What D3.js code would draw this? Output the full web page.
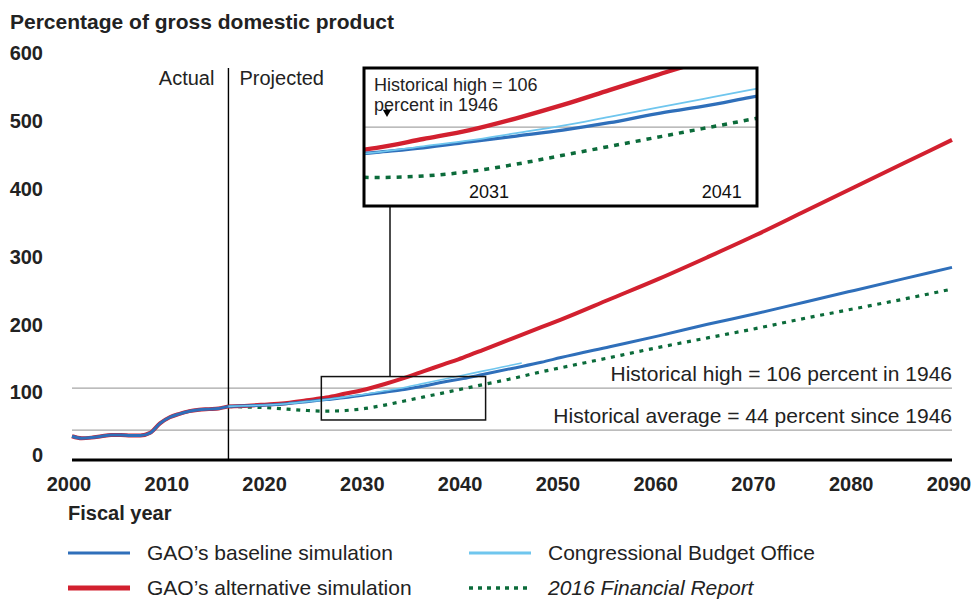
<!DOCTYPE html>
<html><head><meta charset="utf-8">
<script src="https://cdn.jsdelivr.net/npm/d3@7"></script>
<style>
html,body{margin:0;padding:0;background:#fff;}
svg{display:block;font-family:"Liberation Sans",Arial,Helvetica,sans-serif;}
</style></head>
<body><svg id="chart" width="975" height="599"></svg>
<script>
// ---------- data (percent of GDP) ----------
const actualYears = [2000,2001,2002,2003,2004,2005,2006,2007,2008,2009,2010,2011,2012,2013,2014,2015,2016];
const actualDebt  = [35,32,33,35,37,37,36,36,40,54,63,68,72,74,75,76,79];

const projYears   = [2016,2018,2020,2022,2024,2026,2028,2030,2032,2034,2036,2038,2040,2042,2045,2048,2050,2055,2060,2065,2070,2075,2080,2085,2090];
const baseline    = [79,80,81,83,86,89,92,96,100,104,109,115,120,126,135,144,151,167,183,200,216,233,250,267,284];
const alternative = [79,80,82,84,88,92,98,104,112,121,131,141,151,162,179,196,207,237,267,299,332,367,402,437,472];
const finReport   = [79,78,77,75,73,72,73,76,81,87,93,99,105,111,120,130,136,151,166,180,194,209,223,237,252];

const cboYears    = [2016,2018,2020,2022,2024,2026,2028,2030,2032,2034,2036,2038,2040,2042,2044,2046];
const cbo         = [79,80,81,83,86,89,93,97,102,107,113,119,125,131,137,143];

const yTicks = [0,100,200,300,400,500,600];
const xTicks = [2000,2010,2020,2030,2040,2050,2060,2070,2080,2090];
const refLines = [{v:106, label:"Historical high = 106 percent in 1946"},
                  {v:44,  label:"Historical average = 44 percent since 1946"}];
const splitYear = 2016;
const zoomYears = [2025.5, 2042.3];
const zoomValues = [59, 123];
const insetDomainY = [52.7, 146];
const insetTickYears = [2031, 2041];

const legendItems = [
  {label:"GAO\u2019s baseline simulation", key:"base"},
  {label:"GAO\u2019s alternative simulation", key:"alt"},
  {label:"Congressional Budget Office", key:"cbo"},
  {label:"2016 Financial Report", key:"fin", italic:true}
];

// ---------- styles ----------
const C = {base:"#2f6fba", alt:"#d2202f", cbo:"#6fc6ee", fin:"#0b6b3a", grid:"#a6a6a6", text:"#222"};
const W = {base:3, alt:4, cbo:1.6, fin:3.2};

const svg = d3.select("#chart");
const x = d3.scaleLinear().domain([2000,2090]).range([72,952]);
const y = d3.scaleLinear().domain([0,600]).range([460,53]);

const zip = (xs, vs) => xs.map((d,i)=>[d, vs[i]]);
const histPts = zip(actualYears, actualDebt);

function drawSeries(g, xs, ys, pts, key, dash, width){
  const line = d3.line().x(d=>xs(d[0])).y(d=>ys(d[1])).curve(d3.curveMonotoneX);
  g.append("path").datum(pts).attr("d", line)
    .attr("fill","none").attr("stroke", C[key]).attr("stroke-width", width)
    .attr("stroke-dasharray", dash || null).attr("stroke-linejoin","round");
}

// title
svg.append("text").attr("x",10).attr("y",29).text("Percentage of gross domestic product")
  .attr("font-size",21).attr("font-weight","bold").attr("fill",C.text);

// y tick labels
svg.append("g").selectAll("text").data(yTicks).join("text")
  .attr("x",43).attr("y",d=>Math.min(y(d),455)).attr("dy","0.36em")
  .attr("text-anchor","end").attr("font-size",20).attr("font-weight","bold").attr("fill",C.text)
  .text(d=>d);

// reference grid lines
svg.append("g").selectAll("line").data(refLines).join("line")
  .attr("x1",x(2000)).attr("x2",x(2090)).attr("y1",d=>y(d.v)).attr("y2",d=>y(d.v))
  .attr("stroke",C.grid).attr("stroke-width",1.3);
svg.append("g").selectAll("text").data(refLines).join("text")
  .attr("x",x(2090)).attr("y",d=>y(d.v)-7).attr("text-anchor","end")
  .attr("font-size",21).attr("fill",C.text).text(d=>d.label);

// Actual / Projected divider
svg.append("line").attr("x1",x(splitYear)).attr("x2",x(splitYear)).attr("y1",68).attr("y2",460)
  .attr("stroke","#000").attr("stroke-width",1.4);
svg.append("text").attr("x",x(splitYear)-14).attr("y",85).attr("text-anchor","end")
  .attr("font-size",20).attr("fill",C.text).text("Actual");
svg.append("text").attr("x",x(splitYear)+11).attr("y",85)
  .attr("font-size",20).attr("fill",C.text).text("Projected");

// series (main)
const gm = svg.append("g");
function drawAll(g, xs, ys, scale){
  const s = scale || 1;
  drawSeries(g, xs, ys, histPts, "alt", null, W.alt*s);
  drawSeries(g, xs, ys, zip(projYears, finReport), "fin", s>1 ? "5,6" : "4,5.7", W.fin*s);
  drawSeries(g, xs, ys, zip(projYears, alternative), "alt", null, W.alt*s);
  drawSeries(g, xs, ys, histPts, "base", null, W.base*s);
  drawSeries(g, xs, ys, zip(projYears, baseline), "base", null, W.base*s);
  drawSeries(g, xs, ys, zip(cboYears, cbo), "cbo", null, W.cbo*s);
}
drawAll(gm, x, y, 1);

// x axis line
svg.append("line").attr("x1",x(2000)).attr("x2",x(2090)).attr("y1",y(0)).attr("y2",y(0))
  .attr("stroke","#000").attr("stroke-width",3.2);
svg.append("g").selectAll("text").data(xTicks).join("text")
  .attr("x",d=>x(d)-3).attr("y",491).attr("text-anchor","middle")
  .attr("font-size",20).attr("font-weight","bold").attr("fill",C.text).text(d=>d);
svg.append("text").attr("x",68).attr("y",520).text("Fiscal year")
  .attr("font-size",20).attr("font-weight","bold").attr("fill",C.text);

// zoom rectangle in main chart
const rx0 = x(zoomYears[0]), rx1 = x(zoomYears[1]), ry0 = y(zoomValues[1]), ry1 = y(zoomValues[0]);
svg.append("rect").attr("x",rx0).attr("y",ry0).attr("width",rx1-rx0).attr("height",ry1-ry0)
  .attr("fill","none").attr("stroke","#111").attr("stroke-width",1.5);

// inset
const ib = {x0:364, x1:757, y0:68, y1:206};
const xi = d3.scaleLinear().domain(zoomYears).range([ib.x0+1, ib.x1-1]);
const yi = d3.scaleLinear().domain(insetDomainY).range([ib.y1, ib.y0]);
svg.append("line").attr("x1",390).attr("x2",390).attr("y1",ib.y1).attr("y2",ry0)
  .attr("stroke","#111").attr("stroke-width",1.5);
svg.append("rect").attr("x",ib.x0).attr("y",ib.y0).attr("width",ib.x1-ib.x0).attr("height",ib.y1-ib.y0)
  .attr("fill","#fff");
svg.append("clipPath").attr("id","insetClip").append("rect")
  .attr("x",ib.x0).attr("y",ib.y0).attr("width",ib.x1-ib.x0).attr("height",ib.y1-ib.y0);
const gi = svg.append("g").attr("clip-path","url(#insetClip)");
gi.append("line").attr("x1",ib.x0).attr("x2",ib.x1).attr("y1",yi(refLines[0].v)).attr("y2",yi(refLines[0].v))
  .attr("stroke",C.grid).attr("stroke-width",1.3);
drawAll(gi, xi, yi, 1.1);
gi.selectAll("text.it").data(insetTickYears).join("text").attr("class","it")
  .attr("x",d=>xi(d)-4).attr("y",198).attr("text-anchor","middle")
  .attr("font-size",18).attr("fill","#111").text(d=>d);
svg.append("text").attr("x",374).attr("y",91).attr("font-size",18).attr("fill",C.text).text("Historical high = 106");
svg.append("text").attr("x",374).attr("y",111).attr("font-size",18).attr("fill",C.text).text("percent in 1946");
svg.append("path").attr("d",d3.symbol().type(d3.symbolTriangle).size(30)())
  .attr("transform",`translate(387,${yi(refLines[0].v)-15}) rotate(180)`).attr("fill","#000");
svg.append("rect").attr("x",ib.x0).attr("y",ib.y0).attr("width",ib.x1-ib.x0).attr("height",ib.y1-ib.y0)
  .attr("fill","none").attr("stroke","#000").attr("stroke-width",3);

// legend
const lg = svg.append("g");
const legPos = [{x:68,y:553},{x:68,y:588},{x:469,y:553},{x:469,y:588}];
legendItems.forEach((d,i)=>{
  const p = legPos[i];
  const w = d.key==="alt"?5:(d.key==="fin"?3.5:3);
  lg.append("line").attr("x1",p.x).attr("x2",p.x+62).attr("y1",p.y).attr("y2",p.y)
    .attr("stroke",C[d.key]).attr("stroke-width",w)
    .attr("stroke-dasharray", d.key==="fin" ? "4,5" : null);
  lg.append("text").attr("x",p.x+79).attr("y",p.y+7).attr("font-size",21)
    .attr("font-style", d.italic ? "italic" : null).attr("fill",C.text).text(d.label);
});
</script></body></html>
